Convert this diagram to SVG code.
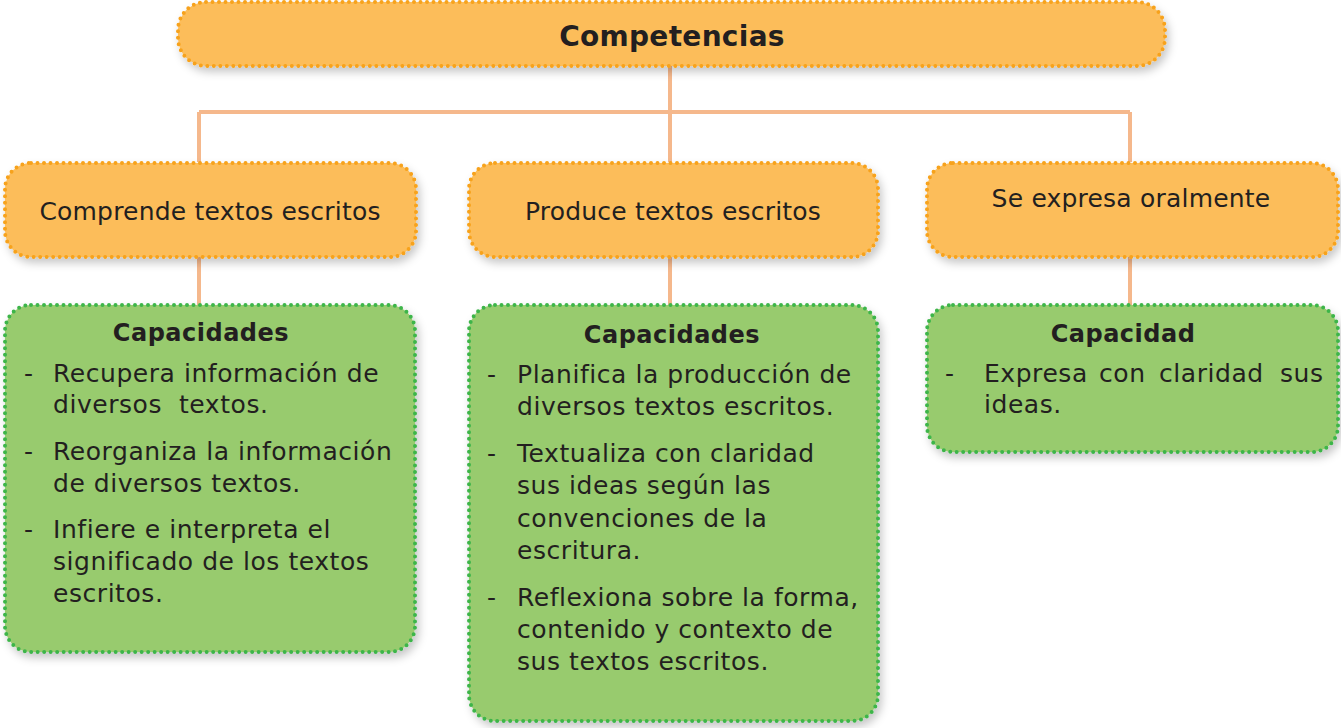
<svg xmlns="http://www.w3.org/2000/svg" width="1341" height="728" viewBox="0 0 1341 728">
<style>
.o{fill:#FCBD5A;stroke:#F7A21B;stroke-width:4;stroke-dasharray:0 6.5;stroke-linecap:round}
.g{fill:#98CB6E;stroke:#3DB54A;stroke-width:4;stroke-dasharray:0 6.5;stroke-linecap:round}
.c{stroke:#F5B88C;stroke-width:4;fill:none}
text{font-family:"DejaVu Sans","Liberation Sans",sans-serif;fill:#231F20}
.t{font-size:25px;letter-spacing:0.55px}
.l{font-size:25px;letter-spacing:0.2px;text-anchor:middle}
.h{font-size:24px;letter-spacing:0.5px;font-weight:bold;text-anchor:middle}
</style>
<defs>
<filter id="sh" x="-10%" y="-10%" width="130%" height="140%">
<feDropShadow dx="3" dy="5" stdDeviation="4" flood-color="#000" flood-opacity="0.22"/>
</filter>
</defs>
<g id="connectors">
<path class="c" d="M670 66V112M199 112H1130M199 112V162M670 112V162M1130 112V162M199 257V305M670 257V305M1130 257V305"/>
</g>
<g id="competencias">
<rect class="o" filter="url(#sh)" x="178" y="2" width="987" height="64" rx="28"/>
<text x="672" y="46" style="font-size:28px;font-weight:bold;letter-spacing:0.3px;text-anchor:middle">Competencias</text>
</g>
<g id="comprende">
<rect class="o" filter="url(#sh)" x="5" y="163" width="411" height="94" rx="26"/>
<text x="210" y="220" class="l">Comprende textos escritos</text>
</g>
<g id="produce">
<rect class="o" filter="url(#sh)" x="469" y="163" width="409" height="94" rx="26"/>
<text x="673" y="220" class="l">Produce textos escritos</text>
</g>
<g id="expresa">
<rect class="o" filter="url(#sh)" x="927" y="163" width="411" height="94" rx="26"/>
<text x="1131" y="207" class="l">Se expresa oralmente</text>
</g>
<g id="cap1">
<rect class="g" filter="url(#sh)" x="5" y="305" width="410" height="347" rx="26"/>
<text x="201" y="341" class="h">Capacidades</text>
<text x="24" y="382" class="t">-</text>
<text x="53" y="382" class="t">Recupera información de</text>
<text x="53" y="413" class="t" xml:space="preserve">diversos  textos.</text>
<text x="24" y="460" class="t">-</text>
<text x="53" y="460" class="t">Reorganiza la información</text>
<text x="53" y="492" class="t">de diversos textos.</text>
<text x="24" y="538" class="t">-</text>
<text x="53" y="538" class="t">Infiere e interpreta el</text>
<text x="53" y="570" class="t">significado de los textos</text>
<text x="53" y="602" class="t">escritos.</text>
</g>
<g id="cap2">
<rect class="g" filter="url(#sh)" x="469" y="305" width="409" height="416" rx="26"/>
<text x="672" y="343" class="h">Capacidades</text>
<text x="487" y="383" class="t">-</text>
<text x="517" y="383" class="t">Planifica la producción de</text>
<text x="517" y="415" class="t">diversos textos escritos.</text>
<text x="487" y="462" class="t">-</text>
<text x="517" y="462" class="t">Textualiza con claridad</text>
<text x="517" y="494" class="t">sus ideas según las</text>
<text x="517" y="527" class="t">convenciones de la</text>
<text x="517" y="559" class="t">escritura.</text>
<text x="487" y="606" class="t">-</text>
<text x="517" y="606" class="t">Reflexiona sobre la forma,</text>
<text x="517" y="638" class="t">contenido y contexto de</text>
<text x="517" y="670" class="t">sus textos escritos.</text>
</g>
<g id="cap3">
<rect class="g" filter="url(#sh)" x="927" y="305" width="411" height="147" rx="26"/>
<text x="1123" y="342" class="h">Capacidad</text>
<text x="945" y="382" class="t">-</text>
<text y="382" class="t"><tspan x="984">Expresa</tspan><tspan x="1099">con</tspan><tspan x="1159">claridad</tspan><tspan x="1280">sus</tspan></text>
<text x="984" y="413" class="t">ideas.</text>
</g>
</svg>
